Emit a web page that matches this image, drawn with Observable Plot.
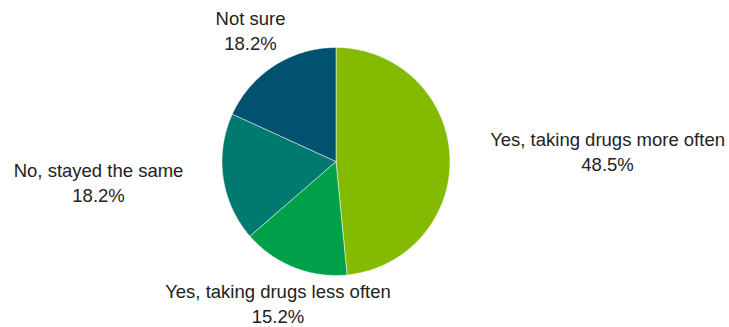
<!DOCTYPE html>
<html>
<head>
<meta charset="utf-8">
<script src="https://cdn.jsdelivr.net/npm/d3@7"></script>
<script src="https://cdn.jsdelivr.net/npm/@observablehq/plot@0.6"></script>
<style>
  html, body { margin: 0; padding: 0; background: #ffffff; }
  #chart svg { display: block; }
</style>
</head>
<body>
<div id="chart"></div>
<script>
// ---- Data ----
const categories = [
  "Yes, taking drugs more often",
  "Yes, taking drugs less often",
  "No, stayed the same",
  "Not sure"
];
const values = [48.5, 15.2, 18.2, 18.2];
const valueLabels = ["48.5%", "15.2%", "18.2%", "18.2%"];

// ---- Style / layout ----
const colors = ["#84bb00", "#00a04b", "#00796e", "#00526e"];
const W = 729, H = 327;
const cx = 335.5, cy = 161, R = 114;       // pie centre and radius in pixels
// label block centres, in radius units relative to the pie centre
const labelAt = [
  [2.382, 0.095],
  [-0.509, -1.238],
  [-2.083, -0.175],
  [-0.750, 1.157]
];

// ---- Build slice polygons (unit circle, clockwise from 12 o'clock) ----
const total = d3.sum(values);
const slices = [];
let acc = 0;
values.forEach((v, i) => {
  const a0 = acc / total * 2 * Math.PI;
  acc += v;
  const a1 = acc / total * 2 * Math.PI;
  const n = Math.max(2, Math.ceil((a1 - a0) / (Math.PI / 180)));
  slices.push({cat: categories[i], x: 0, y: 0});
  for (let k = 0; k <= n; k++) {
    const a = a0 + (a1 - a0) * k / n;
    slices.push({cat: categories[i], x: Math.sin(a), y: Math.cos(a)});
  }
  slices.push({cat: categories[i], x: 0, y: 0});
});

const labels = categories.map((c, i) => ({
  text: c + "\n" + valueLabels[i],
  x: labelAt[i][0],
  y: labelAt[i][1]
}));

const chart = Plot.plot({
  width: W,
  height: H,
  margin: 0,
  style: {background: "#ffffff", fontFamily: "'Liberation Sans', Arial, sans-serif"},
  x: {domain: [-cx / R, (W - cx) / R], axis: null},
  y: {domain: [-(H - cy) / R, cy / R], axis: null},
  color: {domain: categories, range: colors},
  marks: [
    Plot.line(slices, {
      x: "x", y: "y", z: "cat", fill: "cat",
      stroke: "#ffffff", strokeWidth: 0.5, curve: "linear"
    }),
    Plot.text(labels, {
      x: "x", y: "y", text: "text",
      fontSize: 18.5, lineHeight: 1.33, lineAnchor: "middle",
      textAnchor: "middle", fill: "#222222"
    })
  ]
});
document.getElementById("chart").appendChild(chart);
</script>
</body>
</html>
